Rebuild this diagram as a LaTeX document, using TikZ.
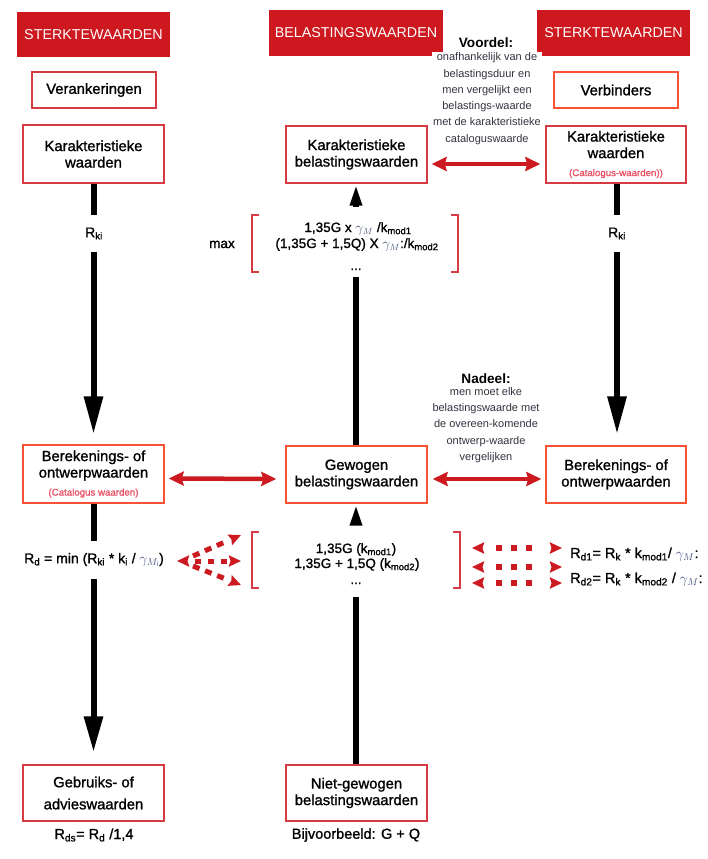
\documentclass[tikz,border=0pt]{standalone}
\usepackage{fontspec}
\setmainfont{Liberation Sans}
\newfontfamily\medfont{Liberation Sans}[FakeBold=1.2]
\usetikzlibrary{arrows.meta}
\definecolor{hdr}{RGB}{204,24,30}
\definecolor{bred}{RGB}{214,58,66}
\definecolor{bora}{RGB}{248,82,52}
\definecolor{arr}{RGB}{204,26,32}
\definecolor{note}{RGB}{50,52,64}
\definecolor{catc}{RGB}{232,80,100}
\definecolor{gmc}{RGB}{70,85,125}
\newcommand\gm{\textcolor{gmc}{$\gamma_M$}}
\newcommand\catfont{\fontsize{9.7}{11}\selectfont\color{catc}}
\tikzset{dtip/.tip={Stealth[length=12pt,width=11pt,inset=1.5pt]}}
\begin{document}
\begin{tikzpicture}[x=1pt,y=-1pt,
  hdrbox/.style={fill=hdr, text=white, inner sep=0pt, font=\fontsize{14.3}{16}\selectfont},
  box/.style={draw=bred, line width=1.4pt, minimum width=141pt, minimum height=57pt, inner sep=0pt, align=center, font=\medfont\fontsize{14.8}{16.5}\selectfont},
  obox/.style={box, draw=bora},
  notetxt/.style={align=center, fill=white, inner sep=1pt, text=note, font=\fontsize{11}{16.3}\selectfont},
  notehead/.style={font=\bfseries\fontsize{13.6}{16}\selectfont},
  fml/.style={inner sep=0pt, anchor=base, font=\medfont\fontsize{13.5}{16}\selectfont},
  plain/.style={inner sep=0pt, font=\medfont\fontsize{14.5}{16}\selectfont},
  gaplabel/.style={fill=white, inner xsep=3pt, inner ysep=0pt, font=\medfont\fontsize{14}{16}\selectfont},
  bigarrow/.style={line width=6pt, -{Triangle[length=38pt,width=18pt]}},
  midarrow/.style={line width=6pt, -{Triangle[length=22pt,width=11pt]}},
  redarrow/.style={draw=arr, line width=4.5pt, {Stealth[length=15pt,width=14pt,inset=2pt]}-{Stealth[length=15pt,width=14pt,inset=2pt]}},
  dotarr/.style={draw=arr, line width=5pt},
  brk/.style={draw=bred, line width=1.4pt},
  rdash/.style={draw=arr, line width=6pt, dash pattern=on 0pt off 14pt on 6pt off 9pt on 6pt off 9pt on 6pt off 60pt, dtip-dtip}
]
\useasboundingbox (0,0) rectangle (708,859);

% headers
\node[hdrbox, minimum width=153pt, minimum height=45pt] (h1) at (93.5,34.5) {STERKTEWAARDEN};
\node[hdrbox, minimum width=174pt, minimum height=46pt] (h2) at (356,33) {BELASTINGSWAARDEN};
\node[hdrbox, minimum width=153pt, minimum height=46pt] (h3) at (613.5,33) {STERKTEWAARDEN};

% top small boxes
\node[box, minimum width=124pt, minimum height=36pt] (ver) at (94,90) {Verankeringen};
\node[obox, minimum width=124pt, minimum height=36pt] (vb) at (616,90) {Verbinders};

% karakteristieke
\node[box, minimum height=58pt] (kl) at (93.5,154) {Karakteristieke\\waarden};
\node[box] (kbel) at (356.5,154.5) {Karakteristieke\\belastingswaarden};
\node[box, minimum width=140pt] (kr) at (616,154.5) {Karakteristieke\\waarden\\[1.5pt]{\catfont (Catalogus-waarden))}};

% berekenings
\node[obox, minimum height=58pt] (bl) at (93.5,474) {Berekenings- of\\ontwerpwaarden\\[1.5pt]{\catfont (Catalogus waarden)}};
\node[obox] (gew) at (356.5,474.5) {Gewogen\\belastingswaarden};
\node[obox, minimum width=140pt] (br) at (616,474.5) {Berekenings- of\\ontwerpwaarden};

% bottom
\node[box, minimum height=56pt] (geb) at (93.5,793) {Gebruiks- of\\[5.5pt]advieswaarden};
\node[box, minimum height=56pt] (ng) at (356.5,793) {Niet-gewogen\\belastingswaarden};

% notes
\node[notehead] (vhead) at (486,43) {Voordel:};
\node[notetxt] (vnote) at (487,98.7) {onafhankelijk van de\\belastingsduur en\\men vergelijkt een\\belastings-waarde\\met de karakteristieke\\cataloguswaarde};
\node[notehead] (nhead) at (486,379) {Nadeel:};
\node[notetxt] (nnote) at (486,425) {men moet elke\\belastingswaarde met\\de overeen-komende\\ontwerp-waarde\\vergelijken};

% black arrows
\draw[bigarrow, shorten >=10pt] (kl.south) -- (bl.north);
\draw[bigarrow, shorten >=11pt] (kr.south -| 617,0) -- (br.north -| 617,0);
\draw[bigarrow, -{Triangle[length=36pt,width=18pt]}, shorten >=12pt] (bl.south) -- (geb.north);
\node[gaplabel, minimum height=37pt] (rk1) at (94,233.5) {R\textsubscript{ki}};
\node[gaplabel, minimum height=37pt] (rk2) at (617,233.5) {R\textsubscript{ki}};

% middle column arrows
\coordinate (mtop) at (356,207);
\coordinate (mbot) at (356,277);
\coordinate (mhi) at (356,525);
\coordinate (mlo) at (356,597);
\draw[line width=6pt] (gew.north -| mbot) -- (mbot);
\draw[midarrow] (mtop) -- (kbel.south -| mtop);
\draw[line width=6pt] (ng.north -| mlo) -- (mlo);
\draw[midarrow] (mhi) -- (gew.south -| mhi);

% max formula
\node[fml] (mx) at (222,248) {max};
\node[fml] (f1) at (358,232) {1,35G x \gm\ /k\textsubscript{mod1}};
\node[fml] (f2) at (357,248) {(1,35G + 1,5Q) X \gm:/k\textsubscript{mod2}};
\node[fml] (f3) at (356,270) {...};
\draw[brk] (259,215) -- (252,215) -- (252,272) -- (259,272);
\draw[brk] (451,215) -- (458,215) -- (458,272) -- (451,272);

% lower middle formula
\node[fml] (l1) at (356,553) {1,35G (k\textsubscript{mod1})};
\node[fml] (l2) at (357,568) {1,35G + 1,5Q (k\textsubscript{mod2})};
\node[fml] (l3) at (356,584) {...};
\draw[brk] (259,532) -- (252,532) -- (252,588) -- (259,588);
\draw[brk] (453,532) -- (460,532) -- (460,588) -- (453,588);

% left formula
\node[gaplabel, minimum height=38pt] (rdf) at (94,560) {R\textsubscript{d} = min (R\textsubscript{ki} * k\textsubscript{i} / \textcolor{gmc}{$\gamma_{M_{\mathrm{i}}}$})};

% right formulas
\node[fml, anchor=base west, font=\medfont\fontsize{14.5}{16}\selectfont] (r1) at (570,558) {R\textsubscript{d1}= R\textsubscript{k} * k\textsubscript{mod1}/ \gm:};
\node[fml, anchor=base west, font=\medfont\fontsize{14.5}{16}\selectfont] (r2) at (570,583) {R\textsubscript{d2}= R\textsubscript{k} * k\textsubscript{mod2} / \gm:};

% bottom labels
\node[plain] (rds) at (94,835) {R\textsubscript{ds}= R\textsubscript{d} /1,4};
\node[plain] (bij) at (356,835) {Bijvoorbeeld: G + Q};

% red double arrows
\draw[redarrow, shorten <=4pt, shorten >=5pt] ([yshift=-9.5pt]kbel.east) -- ([yshift=-9.5pt]kr.west);
\draw[redarrow, shorten <=4pt, shorten >=9pt] ([yshift=-4.5pt]bl.east) -- ([yshift=-4.5pt]gew.west);
\draw[redarrow, shorten <=5pt, shorten >=4pt] ([yshift=-4.5pt]gew.east) -- ([yshift=-4.5pt]br.west);

% dotted arrows left
\coordinate (dsrc) at (177,561);
\coordinate (dsu) at (193,556);
\coordinate (dsd) at (193,566);
\coordinate (dtu) at (241,535);
\coordinate (dtm) at (241,561);
\coordinate (dtd) at (241,585);
\draw[dotarr, dash pattern=on 0pt off 8pt on 6pt off 7pt on 6pt off 7pt on 6pt off 50pt, dtip-dtip] (dsrc) -- (dtm);
\draw[dotarr, dash pattern=on 7pt off 6pt on 7pt off 6pt on 7pt off 50pt, -dtip] (dsu) -- (dtu);
\draw[dotarr, dash pattern=on 7pt off 6pt on 7pt off 6pt on 7pt off 50pt, -dtip] (dsd) -- (dtd);

% dotted arrows right
\coordinate (ra1) at (472,548);
\coordinate (rb1) at (562,548);
\coordinate (ra2) at (472,567);
\coordinate (rb2) at (562,567);
\coordinate (ra3) at (472,583);
\coordinate (rb3) at (562,583);
\draw[rdash] (ra1) -- (rb1);
\draw[rdash] (ra2) -- (rb2);
\draw[rdash] (ra3) -- (rb3);
\end{tikzpicture}
\end{document}
